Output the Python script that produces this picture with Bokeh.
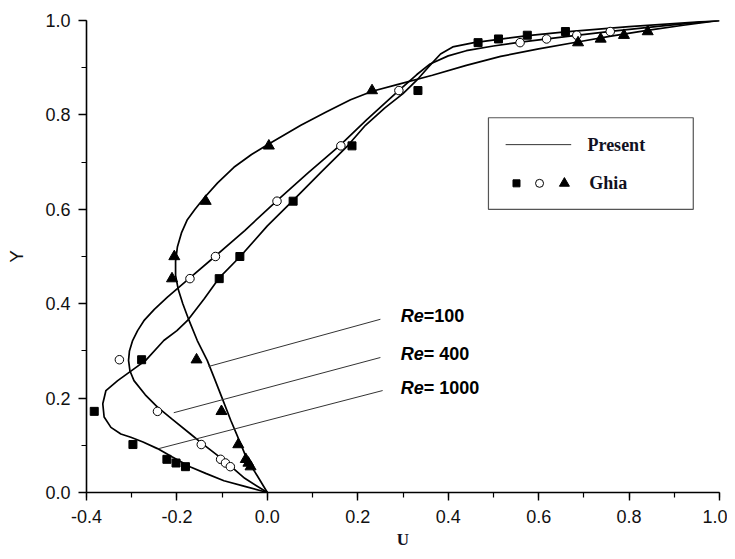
from bokeh.plotting import figure
from bokeh.models import Range1d, SingleIntervalTicker, PrintfTickFormatter
from bokeh.core.properties import value
from bokeh.embed import file_html
from bokeh.resources import INLINE

# ---------------- data ----------------
# Ghia et al. benchmark (u along vertical centreline)
ghia_y = [0.9766, 0.9688, 0.9609, 0.9531, 0.8516, 0.7344, 0.6172, 0.5000,
          0.4531, 0.2813, 0.1719, 0.1016, 0.0703, 0.0625, 0.0547]
ghia_u_re100 = [0.84123, 0.78871, 0.73722, 0.68717, 0.23151, 0.00332, -0.13641,
                -0.20581, -0.21090, -0.15662, -0.10150, -0.06434, -0.04775,
                -0.04192, -0.03717]
ghia_u_re400 = [0.75837, 0.68439, 0.61756, 0.55892, 0.29093, 0.16256, 0.02135,
                -0.11477, -0.17119, -0.32726, -0.24299, -0.14612, -0.10338,
                -0.09266, -0.08186]
ghia_u_re1000 = [0.65928, 0.57492, 0.51117, 0.46604, 0.33304, 0.18719, 0.05702,
                 -0.06080, -0.10648, -0.27805, -0.38289, -0.29730, -0.22220,
                 -0.20196, -0.18109]

# Present results
present_re100_u = [0.0, -0.022, -0.044, -0.062, -0.081, -0.1, -0.118, -0.133,
                   -0.155, -0.173, -0.187, -0.197, -0.203, -0.203, -0.199,
                   -0.19, -0.177, -0.16, -0.14, -0.11, -0.074, -0.035, 0.004,
                   0.074, 0.13, 0.184, 0.232, 0.287, 0.365, 0.44, 0.516, 0.6,
                   0.689, 0.76, 0.84, 0.92, 1.0]
present_re100_y = [0.0, 0.035, 0.068, 0.11, 0.153, 0.2, 0.244, 0.28,
                   0.322, 0.364, 0.4, 0.43, 0.46, 0.49, 0.52,
                   0.55, 0.578, 0.6, 0.624, 0.656, 0.689, 0.716, 0.739,
                   0.778, 0.806, 0.832, 0.85, 0.864, 0.884, 0.905, 0.924, 0.94,
                   0.955, 0.967, 0.979, 0.99, 1.0]

present_re400_u = [0.0, -0.05, -0.096, -0.146, -0.17, -0.21, -0.243, -0.27,
                   -0.295, -0.304, -0.307, -0.305, -0.298, -0.287, -0.273,
                   -0.25, -0.221, -0.172, -0.116, -0.05, 0.022, 0.09, 0.16,
                   0.22, 0.291, 0.33, 0.36, 0.4, 0.44, 0.5, 0.56, 0.66, 0.759,
                   0.88, 1.0]
present_re400_y = [0.0, 0.03, 0.068, 0.105, 0.124, 0.155, 0.181, 0.207,
                   0.237, 0.258, 0.28, 0.3, 0.322, 0.343, 0.364,
                   0.388, 0.414, 0.454, 0.5, 0.555, 0.619, 0.677, 0.735,
                   0.79, 0.852, 0.885, 0.908, 0.925, 0.936, 0.946, 0.954, 0.966,
                   0.977, 0.989, 1.0]

present_re1000_u = [0.0, -0.05, -0.096, -0.135, -0.17, -0.21, -0.243, -0.275,
                    -0.302, -0.324, -0.346, -0.361, -0.364, -0.357, -0.331,
                    -0.295, -0.269, -0.229, -0.2, -0.177, -0.14, -0.107, -0.06,
                    0.0, 0.057, 0.12, 0.177, 0.217, 0.26, 0.3, 0.33, 0.355,
                    0.383, 0.41, 0.457, 0.52, 0.576, 0.659, 0.8, 1.0]
present_re1000_y = [0.0, 0.013, 0.025, 0.04, 0.054, 0.075, 0.093, 0.107,
                    0.117, 0.124, 0.138, 0.16, 0.188, 0.216, 0.237,
                    0.262, 0.28, 0.322, 0.343, 0.364, 0.41, 0.454, 0.5,
                    0.565, 0.619, 0.68, 0.734, 0.778, 0.815, 0.845, 0.873, 0.9,
                    0.929, 0.944, 0.953, 0.961, 0.968, 0.976, 0.987, 1.0]

re_labels = ["=100", "= 400", "= 1000"]

# ---------------- layout constants ----------------
W, H = 727, 553
FONT_SANS = "Liberation Sans"
FONT_SERIF = "Liberation Serif"

p = figure(width=W, height=H, output_backend="svg", toolbar_location=None,
           x_range=Range1d(-0.4, 1.0), y_range=Range1d(0.0, 1.0),
           min_border_left=86, min_border_right=8, min_border_top=20,
           min_border_bottom=61)
p.outline_line_color = None
p.xgrid.visible = False
p.ygrid.visible = False
p.background_fill_color = "white"
p.border_fill_color = "white"

for ax in (p.xaxis[0], p.yaxis[0]):
    ax.ticker = SingleIntervalTicker(interval=0.2, num_minor_ticks=2)
    ax.formatter = PrintfTickFormatter(format="%.1f")
    ax.axis_line_width = 1.6
    ax.axis_line_color = "black"
    ax.major_tick_in = 0
    ax.major_tick_out = 8
    ax.minor_tick_in = 0
    ax.minor_tick_out = 5
    ax.major_tick_line_width = 1.4
    ax.minor_tick_line_width = 1.2
    ax.major_tick_line_color = "black"
    ax.minor_tick_line_color = "black"
    ax.major_label_text_font = FONT_SANS
    ax.major_label_text_font_size = "18px"
    ax.major_label_text_color = "#111111"

p.yaxis.major_label_standoff = 8
p.xaxis.major_label_standoff = 9

p.yaxis.axis_label = "Y"
p.yaxis.axis_label_text_font = FONT_SANS
p.yaxis.axis_label_text_font_style = "normal"
p.yaxis.axis_label_text_font_size = "19px"
p.yaxis.axis_label_text_color = "#111111"
p.yaxis.axis_label_standoff = 15

p.xaxis.axis_label = "U"
p.xaxis.axis_label_text_font = FONT_SERIF
p.xaxis.axis_label_text_font_style = "bold"
p.xaxis.axis_label_text_font_size = "17px"
p.xaxis.axis_label_text_color = "#111122"
p.xaxis.axis_label_standoff = 4

# curves
for u, y in ((present_re100_u, present_re100_y),
             (present_re400_u, present_re400_y),
             (present_re1000_u, present_re1000_y)):
    p.line(u, y, line_color="black", line_width=1.7)

# leader lines to Re labels
leaders = [((-0.13, 0.25), (0.267, 0.367)),
           ((-0.207, 0.25), (0.169, 0.286)),
           ((-0.24, 0.255), (0.093, 0.216))]
for (x0, x1), (y0, y1) in leaders:
    p.line([x0, x1], [y0, y1], line_color="#333333", line_width=1)

# Ghia markers
p.scatter(ghia_u_re1000, ghia_y, marker="square", size=8,
          fill_color="black", line_color="black")
p.scatter(ghia_u_re400, ghia_y, marker="circle", size=8.5,
          fill_color="white", line_color="black", line_width=1)
p.scatter(ghia_u_re100, ghia_y, marker="triangle", size=11,
          fill_color="black", line_color="black")

# Re labels
label_y = [0.373, 0.294, 0.222]
for txt, ly in zip(re_labels, label_y):
    p.text(x=[0.295], y=[ly], text=["Re"], text_font=value(FONT_SANS),
           text_font_style="bold italic", text_font_size="18px",
           text_baseline="middle", text_align="left", text_color="black")
    p.text(x=[0.295], y=[ly], text=[txt], x_offset=23, text_font=value(FONT_SANS),
           text_font_style="bold", text_font_size="18px",
           text_baseline="middle", text_align="left", text_color="black")

# legend box (drawn manually)
p.quad(left=[0.489], right=[0.942], bottom=[0.6], top=[0.794],
       fill_color=None, line_color="#555555", line_width=1.2)
p.line([0.527, 0.672], [0.737, 0.737], line_color="#333333", line_width=1)
p.text(x=[0.708], y=[0.737], text=["Present"], text_font=value(FONT_SERIF),
       text_font_style="bold", text_font_size="18px", text_baseline="middle",
       text_color="#111122")
p.scatter([0.551], [0.655], marker="square", size=7, fill_color="black", line_color="black")
p.scatter([0.602], [0.655], marker="circle", size=8, fill_color="white", line_color="black")
p.scatter([0.657], [0.655], marker="triangle", size=10, fill_color="black", line_color="black")
p.text(x=[0.712], y=[0.655], text=["Ghia"], text_font=value(FONT_SERIF),
       text_font_style="bold", text_font_size="18px", text_baseline="middle",
       text_color="#111122")

open("out.html", "w").write(file_html(p, INLINE))
